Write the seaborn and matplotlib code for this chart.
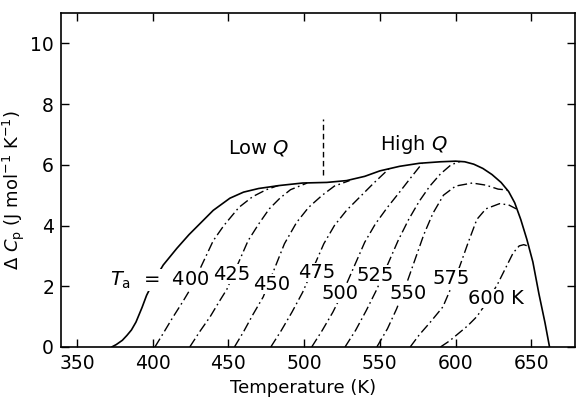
import matplotlib
matplotlib.use("Agg")
import matplotlib.pyplot as plt
import numpy as np
import pandas as pd
import seaborn as sns

# ---------------- data ----------------
env_T = [373, 376, 380, 383, 386, 389, 393, 396, 401, 407, 416, 424, 432, 440,
         451, 460, 470, 484, 499, 515, 528, 540, 550, 563, 576, 590, 600, 606,
         612, 618, 624, 630, 635, 639, 643, 647, 651, 655, 659, 662]
env_cp = [0, 0.08, 0.22, 0.38, 0.56, 0.82, 1.3, 1.7, 2.2, 2.7, 3.25, 3.7, 4.1,
          4.5, 4.9, 5.1, 5.22, 5.32, 5.4, 5.42, 5.48, 5.62, 5.8, 5.95, 6.05,
          6.1, 6.12, 6.1, 6.02, 5.88, 5.68, 5.42, 5.12, 4.75, 4.2, 3.55, 2.8,
          1.75, 0.8, 0]

ta400_T = [401.5, 407, 413, 420, 426, 432, 440, 447, 457, 466, 475, 483]
ta400_cp = [0, 0.45, 0.95, 1.5, 2.0, 2.65, 3.5, 4.0, 4.6, 4.95, 5.18, 5.32]

ta425_T = [424.5, 431, 438, 444, 449, 456, 463, 470, 477, 484, 491, 502]
ta425_cp = [0, 0.5, 1.0, 1.5, 1.9, 2.7, 3.5, 4.05, 4.55, 4.9, 5.18, 5.4]

ta450_T = [454, 460, 466, 473, 479, 487, 495, 503, 512, 520, 530]
ta450_cp = [0, 0.5, 1.05, 1.65, 2.4, 3.4, 4.1, 4.6, 5.0, 5.3, 5.48]

ta475_T = [478, 485, 492, 499, 506, 513, 520, 528, 537, 546, 556]
ta475_cp = [0, 0.55, 1.15, 1.8, 2.6, 3.4, 4.0, 4.5, 4.95, 5.4, 5.87]

ta500_T = [505, 512, 519, 526, 533, 540, 547, 555, 563, 570, 578]
ta500_cp = [0, 0.55, 1.15, 1.85, 2.65, 3.45, 4.05, 4.6, 5.1, 5.55, 6.05]

ta525_T = [527, 534, 541, 548, 555, 562, 569, 576, 583, 590, 597, 603]
ta525_cp = [0, 0.55, 1.2, 1.9, 2.7, 3.5, 4.2, 4.8, 5.3, 5.7, 6.0, 6.11]

ta550_T = [548, 555, 561, 567, 573, 579, 585, 592, 600, 611, 620, 628, 634]
ta550_cp = [0, 0.6, 1.25, 2.0, 2.85, 3.7, 4.4, 5.0, 5.3, 5.4, 5.33, 5.2, 5.17]

ta575_T = [570, 576, 583, 591.6, 597, 602.6, 608, 614, 620, 629, 635, 640]
ta575_cp = [0, 0.4, 0.8, 1.32, 1.95, 2.64, 3.4, 4.2, 4.55, 4.72, 4.68, 4.55]

ta600_T = [590, 596, 602, 608, 614, 621, 628, 634, 638, 642, 645, 648]
ta600_cp = [0, 0.2, 0.45, 0.7, 1.0, 1.5, 2.1, 2.7, 3.1, 3.33, 3.37, 3.32]

anneal_names = ["400", "425", "450", "475", "500", "525", "550", "575", "600"]
anneal_T = [ta400_T, ta425_T, ta450_T, ta475_T, ta500_T, ta525_T, ta550_T,
            ta575_T, ta600_T]
anneal_cp = [ta400_cp, ta425_cp, ta450_cp, ta475_cp, ta500_cp, ta525_cp,
             ta550_cp, ta575_cp, ta600_cp]

curve_labels = [r"$T_{\rm a}$  =  400", "425", "450", "475", "500", "525",
                "550", "575", "600 K"]
x_ticks = [350, 400, 450, 500, 550, 600, 650]
y_ticks = [0, 2, 4, 6, 8, 10]

# ---------------- figure ----------------
sns.set_theme(style="ticks")
plt.rcParams["font.family"] = ["DejaVu Sans"]
plt.rcParams["mathtext.fontset"] = "dejavusans"
plt.rcParams["text.color"] = "black"
plt.rcParams["axes.labelcolor"] = "black"

fig = plt.figure(figsize=(5.77, 4.01), dpi=100)
ax = fig.add_axes([0.1057, 0.1347, 0.8908, 0.8329])

frames = [pd.DataFrame({"curve": "envelope", "T": env_T, "cp": env_cp})]
for name, t, c in zip(anneal_names, anneal_T, anneal_cp):
    frames.append(pd.DataFrame({"curve": name, "T": t, "cp": c}))
df = pd.concat(frames, ignore_index=True)

sns.lineplot(data=df[df.curve == "envelope"], x="T", y="cp", ax=ax,
             color="black", lw=1.2, sort=False, estimator=None)
for name in anneal_names:
    sns.lineplot(data=df[df.curve == name], x="T", y="cp", ax=ax,
                 color="black", lw=1.0, sort=False, estimator=None,
                 linestyle=(0, (7, 2.5, 1.2, 2.5)))

# boundary between low / high Q
ax.plot([512.5, 512.5], [5.65, 7.5], color="black", lw=1.0,
        linestyle=(0, (4, 2.5)))

label_pos = [(371.8, 2.2), (439.7, 2.4), (466, 2.07), (496, 2.45),
             (511.4, 1.77), (534.5, 2.36), (556.5, 1.77), (585, 2.26),
             (608, 1.6)]
for txt, (x, y) in zip(curve_labels, label_pos):
    ax.text(x, y, txt, fontsize=14, ha="left", va="center", zorder=5,
            color="black",
            bbox=dict(facecolor="white", edgecolor="none", pad=0.3))

ax.text(449.6, 6.55, r"Low $Q$", fontsize=14, ha="left", va="center",
        color="black")
ax.text(549.9, 6.67, r"High $Q$", fontsize=14, ha="left", va="center",
        color="black")

ax.set_xlim(339.5, 678.8)
ax.set_ylim(0, 11)
ax.set_xticks(x_ticks)
ax.set_yticks(y_ticks)
ax.tick_params(direction="in", length=6, width=1.0, top=True, right=True,
               labelsize=13.5, colors="black", pad=5)
for s in ax.spines.values():
    s.set_linewidth(1.2)
    s.set_color("black")

ax.set_xlabel("Temperature (K)", fontsize=13, labelpad=4, color="black")
ax.xaxis.set_label_coords(0.47, -0.095)
ax.set_ylabel(r"Δ $C_{\rm p}$ (J mol$^{-1}$ K$^{-1}$)", fontsize=13,
              color="black")
ax.yaxis.set_label_coords(-0.066, 0.47)
ax.grid(False)

fig.savefig("out.png", dpi=100, facecolor="white")
